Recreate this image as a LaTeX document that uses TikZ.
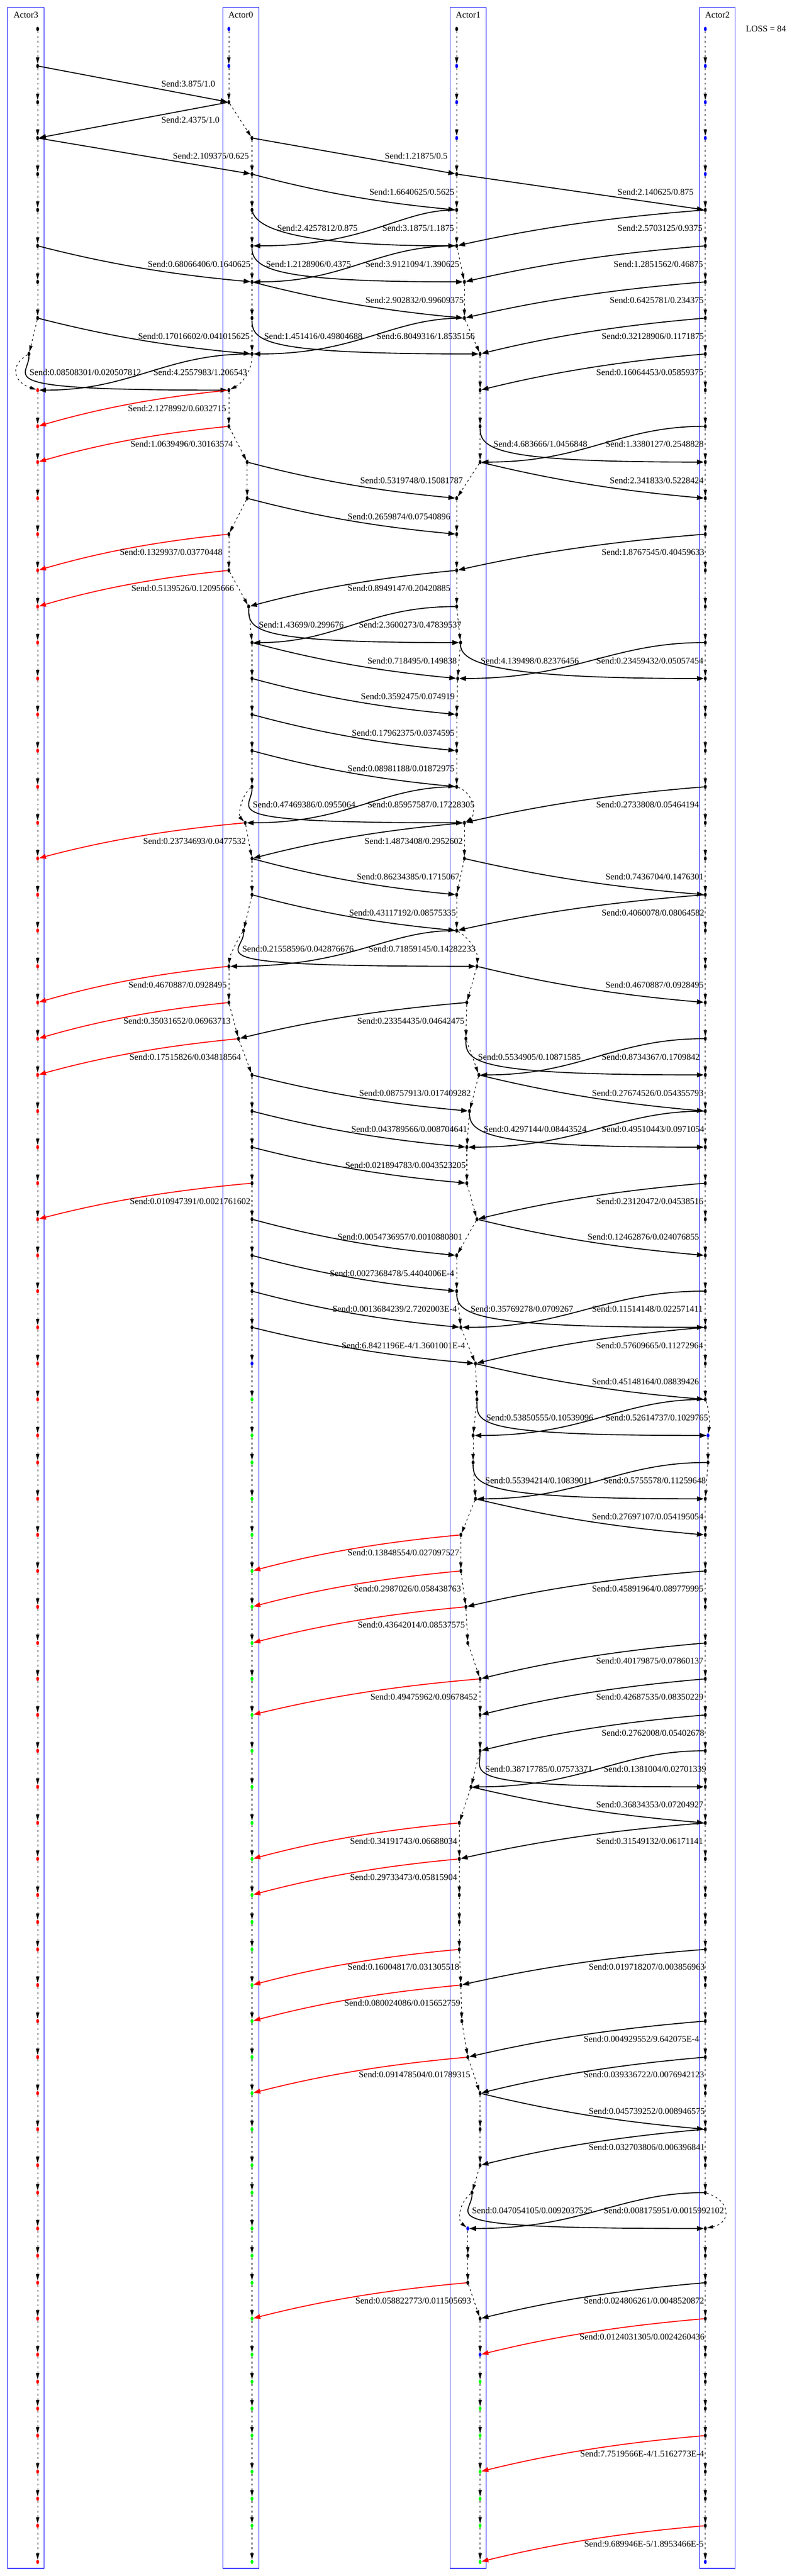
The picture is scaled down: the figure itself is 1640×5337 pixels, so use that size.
\documentclass[tikz,border=0pt]{standalone}
\usepackage{fontspec}
\setmainfont{Liberation Serif}
\usetikzlibrary{arrows.meta,calc,shapes.geometric}
\def\RY{{60,136.7,211.7,286,360.7,435,509.3,584,659,733.3,808.3,883.3,957.3,1032.3,1106.7,1181.7,1256.7,1331.3,1405.7,1480.3,1555.3,1630,1704.7,1778.7,1853.7,1928,2002,2077,2152,2227,2302,2376.7,2451.3,2526,2601,2675,2750,2825,2899.3,2974,3030,3105.3,3180,3254.7,3329,3404,3478.3,3553,3627.3,3702,3776.7,3851.3,3926,3982,4038.7,4112.7,4187.3,4262,4336.7,4411.3,4486,4542.7,4617,4673.3,4729.3,4803.7,4878.3,4934.3,4990,5046,5120.7,5176.7,5232.7,5307.7}}
\def\XA{{474,474,474,522,522,522,522,522,522,522,474,474,512,512,474,474,515,522,522,522,522,522,508,522,522,504.6,474,474,494}}
\def\XB{{946,946,946,946,946,946,946,962,962,994.5,994.5,994.5,994.5,946,946,946,946,954,948,946,946,946,962,962,946,946,988,967,965,992,972.5,967,967,988,946,946,954.6,985,988,980,980,985,954.6,954.6,965,969,994.5,994.5,994.5,975.6,951.4,951.4,951.4,951.4,951.4,954.6,956.7,969,994.5,994.5,994.5,977.7,969,969,969}}
\newcommand\lifes[2]{\foreach \rr in {#2}{\pgfmathtruncatemacro\nxt{\rr+1}\draw[lifeln] (#1r\rr) -- (#1r\nxt);}}
\newcommand\mesST[3][]{\draw[msgln,#1] (#2) -- (#3);}
\newcommand\mesR[3][]{\draw[msgln,#1] (#2) .. controls ($(#2)!0.35!(#3)+(0,14)$) and ($(#2)!0.65!(#3)+(0,12)$) .. (#3);}
\newcommand\mesL[3][]{\draw[msgln,#1] (#2) .. controls ($(#2)!0.35!(#3)+(0,-12)$) and ($(#2)!0.65!(#3)+(0,-14)$) .. (#3);}
\newcommand\mesC[4]{\draw[msgln] (#1) .. controls (#2) and (#3) .. (#4);}
\newcommand\lab[3]{\node[lbltxt] (#1) at (#2) {#3};}
\begin{document}
\begin{tikzpicture}[x=1pt,y=-1pt,
  evdot/.style={ellipse,minimum width=6pt,minimum height=9pt,inner sep=0pt,draw=none},
  lifeln/.style={line width=1.2pt,dash pattern=on 4pt off 6pt,-{Triangle[length=13pt,width=7pt]}},
  msgln/.style={line width=2pt,-{Triangle[length=14pt,width=10pt]}},
  lbltxt/.style={anchor=west,inner sep=0pt,font=\fontsize{18.4}{20}\selectfont},
  actlbl/.style={anchor=center,inner sep=0pt,font=\fontsize{18.4}{20}\selectfont},
  abox/.style={draw=blue,line width=1.3pt}]
\useasboundingbox (0,0) rectangle (1640,5337);
\fill[white] (0,0) rectangle (1640,5337);
% actor boxes
\draw[abox] (15.8,15.7) rectangle (91.5,5321);
\draw[abox] (461.5,15.7) rectangle (536,5321);
\draw[abox] (932.5,15.7) rectangle (1007,5321);
\draw[abox] (1449,15.7) rectangle (1523,5321);
\node[actlbl] (h3) at (53.6,30.7) {Actor3};
\node[actlbl] (h0) at (498.7,30.7) {Actor0};
\node[actlbl] (h1) at (969.8,30.7) {Actor1};
\node[actlbl] (h2) at (1486,30.7) {Actor2};
\node[lbltxt] (loss) at (1545,60) {LOSS = 84};
% event dots
\foreach \rr in {0,...,73}{
  \pgfmathsetmacro\posY{\RY[\rr]}
  \pgfmathsetmacro\posA{\rr==9 ? 60 : 78}
  \ifnum\rr>28 \def\posB{522}\else\pgfmathsetmacro\posB{\XA[\rr]}\fi
  \ifnum\rr>64 \def\posC{994.5}\else\pgfmathsetmacro\posC{\XB[\rr]}\fi
  \pgfmathsetmacro\posD{\rr==39 ? 1466.6 : (\rr==40 ? 1466.6 : 1461)}
  \ifnum\rr<10 \def\colA{black}\else\def\colA{red}\fi
  \ifnum\rr<2 \def\colB{blue}\else\ifnum\rr<37 \def\colB{black}\else\ifnum\rr=37 \def\colB{blue}\else\def\colB{green}\fi\fi\fi
  \ifnum\rr=0 \def\colC{black}\else\ifnum\rr<4 \def\colC{blue}\else\ifnum\rr<62 \def\colC{black}\else\ifnum\rr=62 \def\colC{blue}\else\ifnum\rr<66 \def\colC{black}\else\ifnum\rr=66 \def\colC{blue}\else\def\colC{green}\fi\fi\fi\fi\fi\fi
  \ifnum\rr<5 \def\colD{blue}\else\ifnum\rr<39 \def\colD{black}\else\ifnum\rr=39 \def\colD{blue}\else\ifnum\rr<73 \def\colD{black}\else\def\colD{blue}\fi\fi\fi\fi
  \node[evdot,fill=\colA] (a3r\rr) at (\posA,\posY) {};
  \node[evdot,fill=\colB] (a0r\rr) at (\posB,\posY) {};
  \node[evdot,fill=\colC] (a1r\rr) at (\posC,\posY) {};
  \node[evdot,fill=\colD] (a2r\rr) at (\posD,\posY) {};
}
% lifelines
\lifes{a3}{0,...,8}
\lifes{a3}{10,...,72}
\lifes{a0}{0,...,8}
\lifes{a0}{10,...,20}
\lifes{a0}{22,23,24}
\lifes{a0}{26,...,72}
\lifes{a1}{0,...,20}
\lifes{a1}{22,23,24}
\lifes{a1}{26,...,60}
\lifes{a1}{62,...,72}
\lifes{a2}{0,...,37}
\lifes{a2}{39,...,60}
\lifes{a2}{62,...,72}
\draw[lifeln] (a3r9) .. controls (22,755) and (25,790) .. (a3r10);
\draw[lifeln] (a0r9) .. controls (522,770) and (500,795) .. (a0r10);
\draw[lifeln] (a0r21) .. controls (498,1650) and (494,1690) .. (a0r22);
\draw[lifeln] (a1r21) .. controls (985,1645) and (985,1690) .. (a1r22);
\draw[lifeln] (a0r25) .. controls (490,1950) and (476,1980) .. (a0r26);
\draw[lifeln] (a1r25) .. controls (975,1945) and (990,1975) .. (a1r26);
\draw[lifeln] (a2r38) .. controls (1470,2925) and (1470,2950) .. (a2r39);
\draw[lifeln] (a1r61) .. controls (950,4565) and (948,4600) .. (a1r62);
\draw[lifeln] (a2r61) .. controls (1515,4560) and (1515,4605) .. (a2r62);
% messages
\mesST{a3r1}{a0r2}
\mesST{a0r2}{a3r3}
\mesST{a3r3}{a0r4}
\mesST{a0r3}{a1r4}
\mesR{a0r4}{a1r5}
\mesST{a1r4}{a2r5}
\mesC{a0r5}{537,485}{670.4,509.3}{a1r6}
\mesC{a1r5}{827,435}{763.5,509.3}{a0r6}
\mesL{a2r5}{a1r6}
\mesR{a3r6}{a0r7}
\mesC{a0r6}{522,559.3}{578,584}{a1r7}
\mesC{a1r6}{780.5,509.3}{717,584}{a0r7}
\mesL{a2r6}{a1r7}
\mesR{a0r7}{a1r8}
\mesL{a2r7}{a1r8}
\mesR{a3r8}{a0r9}
\mesC{a0r8}{522,709}{551.5,733.3}{a1r9}
\mesC{a1r8}{809.7,659}{743.7,733.3}{a0r9}
\mesL{a2r8}{a1r9}
\mesC{a3r9}{60,783.3}{-36,808.3}{a0r10}
\mesC{a0r9}{340.6,733.3}{274,808.3}{a3r10}
\mesL{a2r9}{a1r10}
\mesL[draw=red]{a0r10}{a3r11}
\mesL[draw=red]{a0r11}{a3r12}
\mesC{a1r11}{994.5,933.3}{1038,957.3}{a2r12}
\mesC{a2r11}{1281.8,883.3}{1211.8,957.3}{a1r12}
\mesR{a0r12}{a1r13}
\mesR{a1r12}{a2r13}
\mesR{a0r13}{a1r14}
\mesL[draw=red]{a0r14}{a3r15}
\mesL{a2r14}{a1r15}
\mesL[draw=red]{a0r15}{a3r16}
\mesL{a1r15}{a0r16}
\mesC{a0r16}{515,1306.7}{527,1331.3}{a1r17}
\mesC{a1r16}{761.8,1256.7}{698.2,1331.3}{a0r17}
\mesR{a0r17}{a1r18}
\mesC{a1r17}{954,1381.3}{1070,1405.7}{a2r18}
\mesC{a2r17}{1267.7,1331.3}{1190.7,1405.7}{a1r18}
\mesR{a0r18}{a1r19}
\mesR{a0r19}{a1r20}
\mesR{a0r20}{a1r21}
\mesC{a0r21}{522,1680}{426,1704.7}{a1r22}
\mesC{a1r21}{789.2,1630}{723.5,1704.7}{a0r22}
\mesL{a2r21}{a1r22}
\mesL[draw=red]{a0r22}{a3r23}
\mesL{a1r22}{a0r23}
\mesR{a0r23}{a1r24}
\mesR{a1r23}{a2r24}
\mesR{a0r24}{a1r25}
\mesL{a2r24}{a1r25}
\mesC{a0r25}{504.6,1978}{377,2002}{a1r26}
\mesC{a1r25}{800.1,1928}{729.3,2002}{a0r26}
\mesL[draw=red]{a0r26}{a3r27}
\mesR{a1r26}{a2r27}
\mesL[draw=red]{a0r27}{a3r28}
\mesL{a1r27}{a0r28}
\mesL[draw=red]{a0r28}{a3r29}
\mesC{a1r28}{965,2202}{991,2227}{a2r29}
\mesC{a2r28}{1271.7,2152}{1201.3,2227}{a1r29}
\mesR{a0r29}{a1r30}
\mesR{a1r29}{a2r30}
\mesR{a0r30}{a1r31}
\mesC{a1r30}{972.5,2352}{1024,2376.7}{a2r31}
\mesC{a2r30}{1277.7,2302}{1203.6,2376.7}{a1r31}
\mesR{a0r31}{a1r32}
\mesL[draw=red]{a0r32}{a3r33}
\mesL{a2r32}{a1r33}
\mesR{a0r33}{a1r34}
\mesR{a1r33}{a2r34}
\mesR{a0r34}{a1r35}
\mesR{a0r35}{a1r36}
\mesC{a1r35}{946,2725}{989,2750}{a2r36}
\mesC{a2r35}{1254,2675}{1178.1,2750}{a1r36}
\mesR{a0r36}{a1r37}
\mesL{a2r36}{a1r37}
\mesR{a1r37}{a2r38}
\mesC{a1r38}{988,2949.3}{983,2974}{a2r39}
\mesC{a2r38}{1285.2,2899.3}{1213.1,2974}{a1r39}
\mesC{a1r40}{980,3080}{1008,3105.3}{a2r41}
\mesC{a2r40}{1278.1,3030}{1206,3105.3}{a1r41}
\mesR{a1r41}{a2r42}
\mesL[draw=red]{a1r42}{a0r43}
\mesL[draw=red]{a1r43}{a0r44}
\mesL{a2r43}{a1r44}
\mesL[draw=red]{a1r44}{a0r45}
\mesL{a2r45}{a1r46}
\mesL[draw=red]{a1r46}{a0r47}
\mesL{a2r46}{a1r47}
\mesL{a2r47}{a1r48}
\mesC{a1r48}{994.5,3677.3}{944,3702}{a2r49}
\mesC{a2r48}{1281,3627.3}{1208.2,3702}{a1r49}
\mesR{a1r49}{a2r50}
\mesL[draw=red]{a1r50}{a0r51}
\mesL{a2r50}{a1r51}
\mesL[draw=red]{a1r51}{a0r52}
\mesL[draw=red]{a1r54}{a0r55}
\mesL{a2r54}{a1r55}
\mesL[draw=red]{a1r55}{a0r56}
\mesL{a2r56}{a1r57}
\mesL[draw=red]{a1r57}{a0r58}
\mesL{a2r57}{a1r58}
\mesR{a1r58}{a2r59}
\mesL{a2r59}{a1r60}
\mesC{a1r61}{977.7,4592.7}{867,4617}{a2r62}
\mesC{a2r61}{1282.5,4542.7}{1208.8,4617}{a1r62}
\mesL[draw=red]{a1r64}{a0r65}
\mesL{a2r64}{a1r65}
\mesL[draw=red]{a2r65}{a1r66}
\mesL[draw=red]{a2r69}{a1r70}
\mesL[draw=red]{a2r72}{a1r73}
% labels
\lab{t1}{334,174}{Send:3.875/1.0}
\lab{t2}{334,248}{Send:2.4375/1.0}
\lab{t3}{358,323}{Send:2.109375/0.625}
\lab{t4}{797,323}{Send:1.21875/0.5}
\lab{t5}{765,398}{Send:1.6640625/0.5625}
\lab{t6}{1279,398}{Send:2.140625/0.875}
\lab{t7}{574,472}{Send:2.4257812/0.875}
\lab{t8}{792,472}{Send:3.1875/1.1875}
\lab{t9}{1279,472}{Send:2.5703125/0.9375}
\lab{t10}{306,547}{Send:0.68066406/0.1640625}
\lab{t11}{551,547}{Send:1.2128906/0.4375}
\lab{t12}{757,547}{Send:3.9121094/1.390625}
\lab{t13}{1271,547}{Send:1.2851562/0.46875}
\lab{t14}{757,621.7}{Send:2.902832/0.99609375}
\lab{t15}{1263,621.7}{Send:0.6425781/0.234375}
\lab{t16}{286,696.7}{Send:0.17016602/0.041015625}
\lab{t17}{547,696.7}{Send:1.451416/0.49804688}
\lab{t18}{780,696.7}{Send:6.8049316/1.8535156}
\lab{t19}{1246,696.7}{Send:0.32128906/0.1171875}
\lab{t20}{61,771.7}{Send:0.08508301/0.020507812}
\lab{t21}{317.5,771.7}{Send:4.2557983/1.206543}
\lab{t22}{1235,771.7}{Send:0.16064453/0.05859375}
\lab{t23}{265,846}{Send:2.1278992/0.6032715}
\lab{t24}{270,920}{Send:1.0639496/0.30163574}
\lab{t25}{1022,920}{Send:4.683666/1.0456848}
\lab{t26}{1254,920}{Send:1.3380127/0.2548828}
\lab{t27}{746,995}{Send:0.5319748/0.15081787}
\lab{t28}{1263,995}{Send:2.341833/0.5228424}
\lab{t29}{720,1069.7}{Send:0.2659874/0.07540896}
\lab{t30}{248,1144}{Send:0.1329937/0.03770448}
\lab{t31}{1246,1144}{Send:1.8767545/0.40459633}
\lab{t32}{272,1219}{Send:0.5139526/0.12095666}
\lab{t33}{720,1219}{Send:0.8949147/0.20420885}
\lab{t34}{536,1294}{Send:1.43699/0.299676}
\lab{t35}{743,1294}{Send:2.3600273/0.47839537}
\lab{t36}{761,1368.7}{Send:0.718495/0.149838}
\lab{t37}{995.6,1368.7}{Send:4.139498/0.82376456}
\lab{t38}{1235,1368.7}{Send:0.23459432/0.05057454}
\lab{t39}{747.5,1443}{Send:0.3592475/0.074919}
\lab{t40}{728.6,1518}{Send:0.17962375/0.0374595}
\lab{t41}{720,1592.3}{Send:0.08981188/0.01872975}
\lab{t42}{523.5,1667.3}{Send:0.47469386/0.0955064}
\lab{t43}{761,1667.3}{Send:0.85957587/0.17228305}
\lab{t44}{1235,1667.3}{Send:0.2733808/0.05464194}
\lab{t45}{296.5,1742.3}{Send:0.23734693/0.0477532}
\lab{t46}{755,1742.3}{Send:1.4873408/0.2952602}
\lab{t47}{739,1816.3}{Send:0.86234385/0.1715067}
\lab{t48}{1254,1816.3}{Send:0.7436704/0.1476301}
\lab{t49}{723,1891}{Send:0.43117192/0.08575335}
\lab{t50}{1246,1891}{Send:0.4060078/0.08064582}
\lab{t51}{501.5,1966}{Send:0.21558596/0.042876676}
\lab{t52}{763,1966}{Send:0.71859145/0.14282233}
\lab{t53}{266,2040.3}{Send:0.4670887/0.0928495}
\lab{t54}{1254,2040.3}{Send:0.4670887/0.0928495}
\lab{t55}{255.5,2114.7}{Send:0.35031652/0.06963713}
\lab{t56}{740,2114.7}{Send:0.23354435/0.04642475}
\lab{t57}{268,2189.7}{Send:0.17515826/0.034818564}
\lab{t58}{990,2189.7}{Send:0.5534905/0.10871585}
\lab{t59}{1246,2189.7}{Send:0.8734367/0.1709842}
\lab{t60}{744,2264.3}{Send:0.08757913/0.017409282}
\lab{t61}{1226,2264.3}{Send:0.27674526/0.054355793}
\lab{t62}{727.5,2339.3}{Send:0.043789566/0.008704641}
\lab{t63}{1002,2339.3}{Send:0.4297144/0.08443524}
\lab{t64}{1246,2339.3}{Send:0.49510443/0.0971054}
\lab{t65}{715,2414.3}{Send:0.021894783/0.0043523205}
\lab{t66}{269,2488.7}{Send:0.010947391/0.0021761602}
\lab{t67}{1235,2488.7}{Send:0.23120472/0.04538516}
\lab{t68}{699,2562.7}{Send:0.0054736957/0.0010880801}
\lab{t69}{1217,2562.7}{Send:0.12462876/0.024076855}
\lab{t70}{683,2637.7}{Send:0.0027368478/5.4404006E-4}
\lab{t71}{688.6,2712.3}{Send:0.0013684239/2.7202003E-4}
\lab{t72}{974.6,2712.3}{Send:0.35769278/0.0709267}
\lab{t73}{1226,2712.3}{Send:0.11514148/0.022571411}
\lab{t74}{707.5,2787.7}{Send:6.8421196E-4/1.3601001E-4}
\lab{t75}{1235,2787.7}{Send:0.57609665/0.11272964}
\lab{t76}{1226,2862.3}{Send:0.45148164/0.08839426}
\lab{t77}{1007,2936.7}{Send:0.53850555/0.10539096}
\lab{t78}{1254,2936.7}{Send:0.52614737/0.1029765}
\lab{t79}{1005,3067.3}{Send:0.55394214/0.10839011}
\lab{t80}{1250,3067.3}{Send:0.5755578/0.11259648}
\lab{t81}{1226,3142.3}{Send:0.27697107/0.054195054}
\lab{t82}{720,3216.3}{Send:0.13848554/0.027097527}
\lab{t83}{733,3291.3}{Send:0.2987026/0.058438763}
\lab{t84}{1226,3291.3}{Send:0.45891964/0.089779995}
\lab{t85}{741,3366.3}{Send:0.43642014/0.08537575}
\lab{t86}{1235,3440.7}{Send:0.40179875/0.07860137}
\lab{t87}{767,3515.7}{Send:0.49475962/0.09678452}
\lab{t88}{1235,3515.7}{Send:0.42687535/0.08350229}
\lab{t89}{1246,3590.3}{Send:0.2762008/0.05402678}
\lab{t90}{1005,3664.7}{Send:0.38717785/0.07573371}
\lab{t91}{1250,3664.7}{Send:0.1381004/0.02701339}
\lab{t92}{1235,3739}{Send:0.36834353/0.07204927}
\lab{t93}{725,3814.7}{Send:0.34191743/0.06688034}
\lab{t94}{1235,3814.7}{Send:0.31549132/0.06171141}
\lab{t95}{725,3888.7}{Send:0.29733473/0.05815904}
\lab{t96}{720,4075.3}{Send:0.16004817/0.031305518}
\lab{t97}{1219.5,4075.3}{Send:0.019718207/0.003856963}
\lab{t98}{713,4149.7}{Send:0.080024086/0.015652759}
\lab{t99}{1209,4224.3}{Send:0.004929552/9.642075E-4}
\lab{t100}{743,4298}{Send:0.091478504/0.01789315}
\lab{t101}{1209,4298}{Send:0.039336722/0.0076942123}
\lab{t102}{1219.5,4373.7}{Send:0.045739252/0.008946575}
\lab{t103}{1219.5,4448}{Send:0.032703806/0.006396841}
\lab{t104}{977.7,4579.3}{Send:0.047054105/0.0092037525}
\lab{t105}{1250,4579.3}{Send:0.008175951/0.0015992102}
\lab{t106}{736,4767}{Send:0.058822773/0.011505693}
\lab{t107}{1209,4767}{Send:0.024806261/0.0048520872}
\lab{t108}{1200.5,4841}{Send:0.0124031305/0.0024260436}
\lab{t109}{1201.6,5083.3}{Send:7.7519566E-4/1.5162773E-4}
\lab{t110}{1210,5270}{Send:9.689946E-5/1.8953466E-5}
\end{tikzpicture}
\end{document}
